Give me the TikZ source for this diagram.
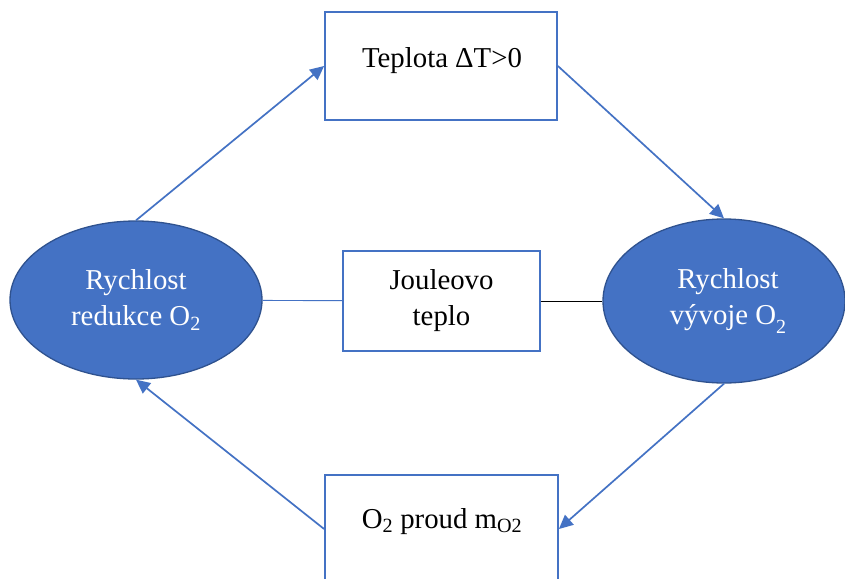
\documentclass[tikz,border=0pt]{standalone}
\usepackage{fontspec}
\setmainfont{Liberation Serif}
\usetikzlibrary{shapes.geometric,arrows.meta}
\definecolor{obl}{HTML}{4472C4}
\definecolor{odk}{HTML}{2F528F}
\begin{document}
\begin{tikzpicture}[x=1pt,y=-1pt,
  every node/.style={font=\fontsize{28.8}{36}\selectfont},
  rbox/.style={draw=obl,line width=1.8pt,fill=white,inner sep=0pt},
  oval/.style={ellipse,draw=odk,line width=1.3pt,fill=obl,text=white,align=center,inner sep=0pt},
  arr/.style={draw=obl,line width=1.7pt,-{Triangle[length=14pt,width=13pt]}},
  plain/.style={line width=0.9pt}]
\clip (0,0) rectangle (845,578);
\fill[white] (0,0) rectangle (845,578);
% boxes
\node[rbox,minimum width=232pt,minimum height=108pt] (T) at (441,66) {};
\node[anchor=base] (Tt) at (442,67) {Teplota ΔT>0};
\node[rbox,minimum width=233pt,minimum height=108pt] (B) at (441.5,529) {};
\node[anchor=base] (Bt) at (442,528) {O\textsubscript{2} proud m\textsubscript{O2}};
\node[rbox,minimum width=197pt,minimum height=100pt,align=center] (M) at (441.5,301) {Jouleovo\\teplo};
% ellipses
\node[oval,minimum width=252pt,minimum height=158pt] (L) at (136,300) {Rychlost\\redukce O\textsubscript{2}};
\node[oval,minimum width=242pt,minimum height=164pt] (R) at (724,301) {\hspace*{8pt}Rychlost\\\hspace*{8pt}vývoje O\raisebox{-0.32em}{\fontsize{20}{20}\selectfont 2}};
% side lines
\draw[plain,obl] (L) -- (M);
\draw[plain,black] (M) -- (R);
% arrows
\draw[arr] (L.north) -- (T.west);
\draw[arr] (T.east) -- (R.north);
\draw[arr] (R.south) -- (B.east);
\draw[arr] (B.west) -- (L.south);
\end{tikzpicture}
\end{document}
